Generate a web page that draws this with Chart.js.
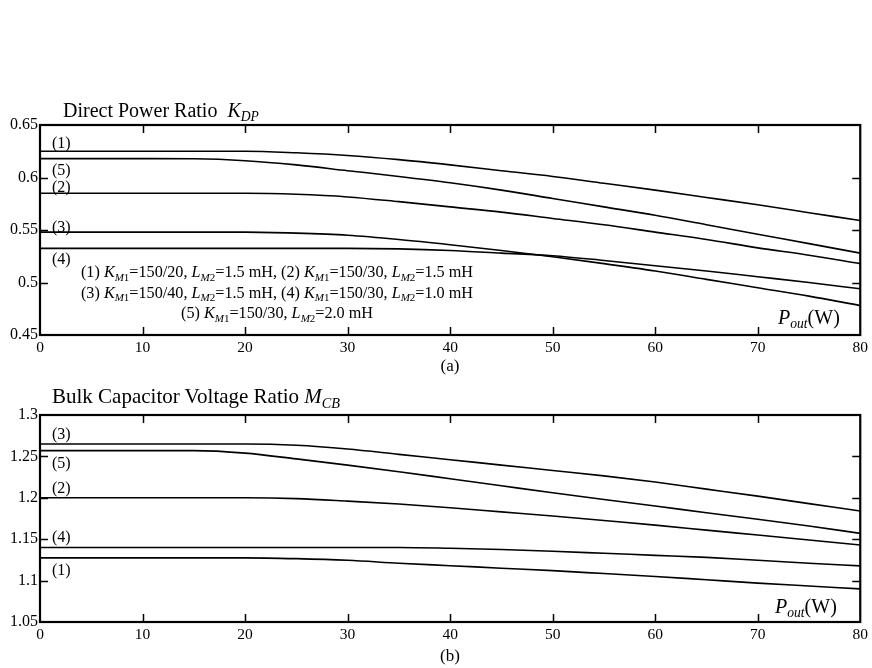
<!DOCTYPE html>
<html>
<head>
<meta charset="utf-8">
<script src="https://cdn.jsdelivr.net/npm/chart.js@4.4.1/dist/chart.umd.min.js"></script>
<style>
  body { margin: 0; background: #fff; width: 872px; height: 668px; position: relative; overflow: hidden;
         font-family: "Liberation Serif", "Times New Roman", serif; color: #000; }
  .box { position: absolute; left: 0; width: 872px; }
  .t { position: absolute; white-space: nowrap; line-height: 1; }
  .t sub { font-size: 0.68em; vertical-align: baseline; position: relative; top: 0.32em; }
  .c { text-align: center; }
</style>
</head>
<body>
<div class="box" style="top:0;height:380px"><canvas id="kdp"></canvas></div>
<div class="box" style="top:380px;height:288px"><canvas id="mcb"></canvas></div>

<!-- titles and labels -->
<div class="t" style="left:63px;top:100px;font-size:20px">Direct Power Ratio&nbsp; <i>K</i><sub><i>DP</i></sub></div>
<div class="t" style="left:52px;top:386px;font-size:21px">Bulk Capacitor Voltage Ratio <i>M</i><sub><i>CB</i></sub></div>

<div class="t" style="left:52px;top:135px;font-size:16px">(1)</div>
<div class="t" style="left:52px;top:162px;font-size:16px">(5)</div>
<div class="t" style="left:52px;top:179px;font-size:16px">(2)</div>
<div class="t" style="left:52px;top:219px;font-size:16px">(3)</div>
<div class="t" style="left:52px;top:251px;font-size:16px">(4)</div>

<div class="t c" style="left:57px;width:440px;top:263px;font-size:16.2px;line-height:19.5px">
(1) <i>K</i><sub><i>M</i>1</sub>=150/20, <i>L</i><sub><i>M</i>2</sub>=1.5 mH, (2) <i>K</i><sub><i>M</i>1</sub>=150/30, <i>L</i><sub><i>M</i>2</sub>=1.5 mH<br>
(3) <i>K</i><sub><i>M</i>1</sub>=150/40, <i>L</i><sub><i>M</i>2</sub>=1.5 mH, (4) <i>K</i><sub><i>M</i>1</sub>=150/30, <i>L</i><sub><i>M</i>2</sub>=1.0 mH<br>
(5) <i>K</i><sub><i>M</i>1</sub>=150/30, <i>L</i><sub><i>M</i>2</sub>=2.0 mH
</div>

<div class="t" style="left:778px;top:307px;font-size:20px"><i>P</i><sub><i>out</i></sub>(W)</div>
<div class="t" style="left:775px;top:596px;font-size:20px"><i>P</i><sub><i>out</i></sub>(W)</div>

<div class="t" style="left:52px;top:426px;font-size:16px">(3)</div>
<div class="t" style="left:52px;top:455px;font-size:16px">(5)</div>
<div class="t" style="left:52px;top:480px;font-size:16px">(2)</div>
<div class="t" style="left:52px;top:529px;font-size:16px">(4)</div>
<div class="t" style="left:52px;top:562px;font-size:16px">(1)</div>

<div class="t c" style="left:400px;width:100px;top:357px;font-size:17px">(a)</div>
<div class="t c" style="left:400px;width:100px;top:647px;font-size:17px">(b)</div>

<script>
// output power (W)
const pout = [0, 5, 10, 15, 20, 25, 30, 35, 40, 45, 50, 55, 60, 65, 70, 75, 80];

// (a) direct power ratio K_DP
const kdp1 = [0.625, 0.625, 0.625, 0.625, 0.625, 0.6235, 0.621, 0.617, 0.612, 0.6065, 0.601, 0.5945, 0.588, 0.581, 0.574, 0.5665, 0.559];
const kdp2 = [0.585, 0.585, 0.585, 0.585, 0.585, 0.584, 0.5815, 0.577, 0.572, 0.567, 0.561, 0.555, 0.548, 0.541, 0.533, 0.526, 0.518];
const kdp3 = [0.548, 0.548, 0.548, 0.548, 0.548, 0.547, 0.545, 0.541, 0.536, 0.5305, 0.5245, 0.518, 0.511, 0.503, 0.495, 0.487, 0.478];
const kdp4 = [0.5325, 0.5325, 0.5325, 0.5325, 0.5325, 0.5325, 0.5325, 0.532, 0.5305, 0.528, 0.5255, 0.521, 0.516, 0.511, 0.5055, 0.500, 0.494];
const kdp5 = [0.618, 0.618, 0.618, 0.6178, 0.616, 0.612, 0.6065, 0.601, 0.595, 0.588, 0.580, 0.572, 0.564, 0.555, 0.546, 0.537, 0.528];

// (b) bulk capacitor voltage ratio M_CB
const mcb1 = [1.1275, 1.1275, 1.1275, 1.1275, 1.1275, 1.1265, 1.1245, 1.121, 1.118, 1.115, 1.112, 1.1085, 1.105, 1.101, 1.097, 1.0935, 1.090];
const mcb2 = [1.2, 1.2, 1.2, 1.2, 1.2, 1.199, 1.196, 1.1925, 1.188, 1.183, 1.178, 1.1725, 1.167, 1.161, 1.155, 1.149, 1.143];
const mcb3 = [1.265, 1.265, 1.265, 1.265, 1.265, 1.2635, 1.259, 1.2525, 1.246, 1.2395, 1.233, 1.2265, 1.219, 1.2105, 1.202, 1.193, 1.184];
const mcb4 = [1.14, 1.14, 1.14, 1.14, 1.14, 1.14, 1.14, 1.14, 1.139, 1.1375, 1.1355, 1.133, 1.1305, 1.128, 1.1245, 1.121, 1.1178];
const mcb5 = [1.257, 1.257, 1.257, 1.257, 1.254, 1.247, 1.2395, 1.2315, 1.223, 1.2145, 1.206, 1.198, 1.190, 1.182, 1.174, 1.166, 1.157];

// tick labels
const xTicks = [0, 10, 20, 30, 40, 50, 60, 70, 80];
const kdpTicks = [0.45, 0.5, 0.55, 0.6, 0.65];
const mcbTicks = [1.05, 1.1, 1.15, 1.2, 1.25, 1.3];

// box frame and inward ticks
const framePlugin = {
  id: 'frame',
  afterDraw(chart) {
    const { ctx, chartArea: a, scales } = chart;
    ctx.save();
    ctx.strokeStyle = '#000';
    ctx.lineWidth = 1.5;
    ctx.beginPath();
    scales.x.ticks.forEach(t => {
      if (t.value <= scales.x.min || t.value >= scales.x.max) return;
      const px = Math.round(scales.x.getPixelForValue(t.value)) + 0.5;
      ctx.moveTo(px, a.bottom); ctx.lineTo(px, a.bottom - 8);
      ctx.moveTo(px, a.top); ctx.lineTo(px, a.top + 8);
    });
    scales.y.ticks.forEach(t => {
      if (t.value <= scales.y.min + 1e-9 || t.value >= scales.y.max - 1e-9) return;
      const py = Math.round(scales.y.getPixelForValue(t.value)) + 0.5;
      ctx.moveTo(a.left, py); ctx.lineTo(a.left + 8, py);
      ctx.moveTo(a.right, py); ctx.lineTo(a.right - 8, py);
    });
    ctx.stroke();
    ctx.lineWidth = 2.2;
    ctx.strokeRect(a.left, a.top, a.right - a.left, a.bottom - a.top);
    ctx.restore();
  }
};

function makeChart(id, series, yTicks, padTop, xHeight) {
  return new Chart(document.getElementById(id), {
    type: 'line',
    data: {
      datasets: series.map(s => ({
        data: pout.map((p, i) => ({ x: p, y: s[i] })),
        borderColor: '#000',
        borderWidth: 1.6,
        pointRadius: 0,
        cubicInterpolationMode: 'monotone',
        fill: false,
      })),
    },
    options: {
      responsive: true,
      maintainAspectRatio: false,
      animation: false,
      events: [],
      layout: { padding: { top: padTop, right: 11, left: 0, bottom: 0 } },
      plugins: { legend: { display: false }, tooltip: { enabled: false } },
      scales: {
        x: {
          type: 'linear',
          min: 0,
          max: 80,
          afterBuildTicks: s => { s.ticks = xTicks.map(v => ({ value: v })); },
          afterFit: s => { s.height = xHeight; },
          grid: { display: false, drawTicks: false },
          border: { display: false },
          ticks: { color: '#000', font: { family: 'Liberation Serif', size: 15.5 }, padding: 4, maxRotation: 0, callback: v => String(v) },
        },
        y: {
          min: yTicks[0],
          max: yTicks[yTicks.length - 1],
          afterBuildTicks: s => { s.ticks = yTicks.map(v => ({ value: v })); },
          afterFit: s => { s.width = 40; },
          grid: { display: false, drawTicks: false },
          border: { display: false },
          ticks: { color: '#000', font: { family: 'Liberation Serif', size: 16 }, padding: 2, callback: v => String(v) },
        },
      },
    },
    plugins: [framePlugin],
  });
}

makeChart('kdp', [kdp1, kdp2, kdp3, kdp4, kdp5], kdpTicks, 125, 45);
makeChart('mcb', [mcb1, mcb2, mcb3, mcb4, mcb5], mcbTicks, 35, 46);
</script>
</body>
</html>
